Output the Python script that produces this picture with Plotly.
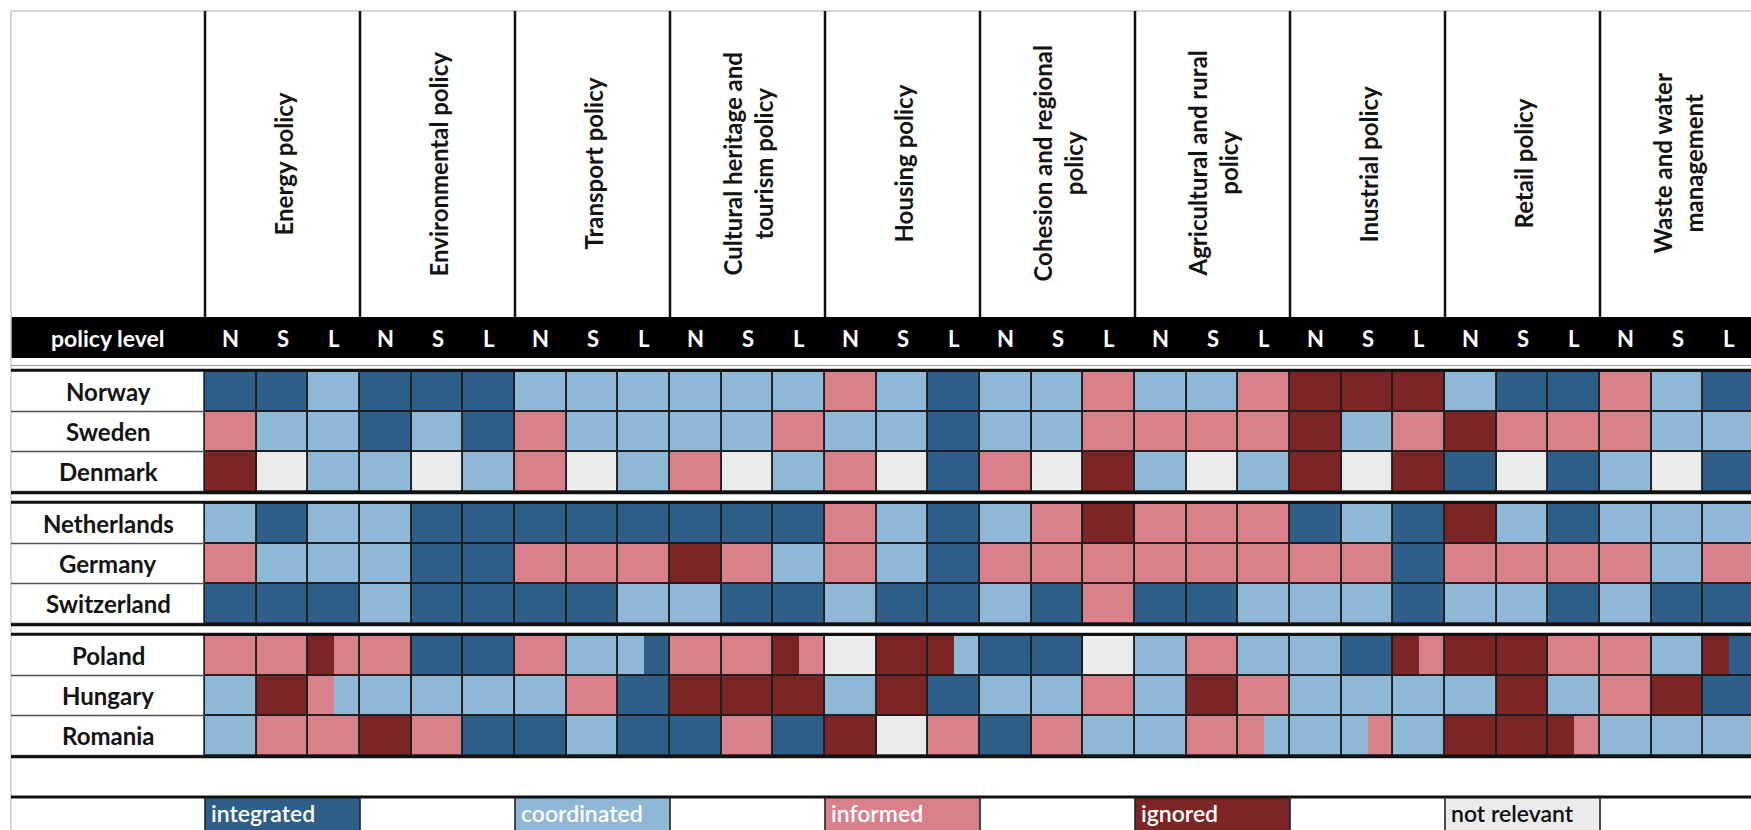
import plotly.graph_objects as go

# ---------------- data ----------------
policies = ["Energy policy", "Environmental policy", "Transport policy",
            "Cultural heritage and<br>tourism policy", "Housing policy",
            "Cohesion and regional<br>policy", "Agricultural and rural<br>policy",
            "Inustrial policy", "Retail policy", "Waste and water<br>management"]
levels = ["N", "S", "L"]
countries = ["Norway", "Sweden", "Denmark", "Netherlands", "Germany", "Switzerland",
             "Poland", "Hungary", "Romania"]
country_group = [0, 0, 0, 1, 1, 1, 2, 2, 2]

# I = integrated, C = coordinated, F = informed, G = ignored, X = not relevant
# two letters = cell split in halves (left, right)
norway      = ["I", "I", "C",  "I", "I", "I",  "C", "C", "C",  "C", "C", "C",  "F", "C", "I",
               "C", "C", "F",  "C", "C", "F",  "G", "G", "G",  "C", "I", "I",  "F", "C", "I"]
sweden      = ["F", "C", "C",  "I", "C", "I",  "F", "C", "C",  "C", "C", "F",  "C", "C", "I",
               "C", "C", "F",  "F", "F", "F",  "G", "C", "F",  "G", "F", "F",  "F", "C", "C"]
denmark     = ["G", "X", "C",  "C", "X", "C",  "F", "X", "C",  "F", "X", "C",  "F", "X", "I",
               "F", "X", "G",  "C", "X", "C",  "G", "X", "G",  "I", "X", "I",  "C", "X", "I"]
netherlands = ["C", "I", "C",  "C", "I", "I",  "I", "I", "I",  "I", "I", "I",  "F", "C", "I",
               "C", "F", "G",  "F", "F", "F",  "I", "C", "I",  "G", "C", "I",  "C", "C", "C"]
germany     = ["F", "C", "C",  "C", "I", "I",  "F", "F", "F",  "G", "F", "C",  "F", "C", "I",
               "F", "F", "F",  "F", "F", "F",  "F", "F", "I",  "F", "F", "F",  "F", "C", "F"]
switzerland = ["I", "I", "I",  "C", "I", "I",  "I", "I", "C",  "C", "I", "I",  "C", "I", "I",
               "C", "I", "F",  "I", "I", "C",  "C", "C", "I",  "C", "C", "I",  "C", "I", "I"]
poland      = ["F", "F", "GF", "F", "I", "I",  "F", "C", "CI", "F", "F", "GF", "X", "G", "GC",
               "I", "I", "X",  "C", "F", "C",  "C", "I", "GF", "G", "G", "F",  "F", "C", "GI"]
hungary     = ["C", "G", "FC", "C", "C", "C",  "C", "F", "I",  "G", "G", "G",  "C", "G", "I",
               "C", "C", "F",  "C", "G", "F",  "C", "C", "C",  "C", "G", "C",  "F", "G", "I"]
romania     = ["C", "F", "F",  "G", "F", "I",  "I", "C", "I",  "I", "F", "I",  "G", "X", "F",
               "I", "F", "C",  "C", "F", "FC", "C", "CF", "C", "G", "G", "GF", "C", "C", "C"]
table = [norway, sweden, denmark, netherlands, germany, switzerland, poland, hungary, romania]

legend_codes = ["I", "C", "F", "G", "X"]
legend_labels = ["integrated", "coordinated", "informed", "ignored", "not relevant"]

# ---------------- style ----------------
colors = {"I": "#2f5e88", "C": "#8eb8d6", "F": "#d8818a", "G": "#7c2527", "X": "#ebebeb"}
text_on = {"I": "white", "C": "white", "F": "white", "G": "white", "X": "#111111"}
FONT = "Lato"
W, H = 1751, 830
SUB_W = 155 / 3.0      # px per sub-column
ROW_H = 40.0           # px per row
GRID_X0 = 205.0        # px of first data column
GRID_Y0 = 371.5        # px of first data row
GROUP_GAP = 0.3        # rows


def X(px):
    return (px - GRID_X0) / SUB_W


def Y(px):
    return (px - GRID_Y0) / ROW_H


def row_top(r):
    return r + country_group[r] * GROUP_GAP


fig = go.Figure()

# fills (split cells drawn as halves)
for code in legend_codes:
    xs, bases, widths = [], [], []
    for r, row in enumerate(table):
        for c, cell in enumerate(row):
            n = len(cell)
            for p, part in enumerate(cell):
                if part == code:
                    xs.append(c + (p + 0.5) / n)
                    widths.append(1.0 / n)
                    bases.append(row_top(r))
    fig.add_trace(go.Bar(x=xs, y=[1] * len(xs), base=bases, width=widths,
                         marker=dict(color=colors[code], line=dict(width=0)),
                         name=legend_labels[legend_codes.index(code)],
                         showlegend=False, hoverinfo="skip"))

# cell outlines
ox, ob = [], []
for r, row in enumerate(table):
    for c in range(len(row)):
        ox.append(c + 0.5)
        ob.append(row_top(r))
fig.add_trace(go.Bar(x=ox, y=[1] * len(ox), base=ob, width=[1.0] * len(ox),
                     marker=dict(color="rgba(0,0,0,0)", line=dict(color="#1e1e1e", width=1.7)),
                     showlegend=False, hoverinfo="skip"))

shapes = []
annotations = []
XL, XR = X(11), X(1760)
ncols = len(policies) * len(levels)

# outer light border
shapes.append(dict(type="line", x0=XL, x1=XR, y0=Y(11), y1=Y(11),
                   line=dict(color="#c8c8c8", width=1.5)))
shapes.append(dict(type="line", x0=XL, x1=XL, y0=Y(11), y1=Y(830),
                   line=dict(color="#c8c8c8", width=1.5)))

# header vertical lines and labels
for k, pol in enumerate(policies):
    shapes.append(dict(type="line", x0=3 * k, x1=3 * k, y0=Y(11), y1=Y(317),
                       line=dict(color="#111111", width=2.5)))
    annotations.append(dict(x=3 * k + 1.5, y=Y(164), text=pol, textangle=-90,
                            showarrow=False, xanchor="center", yanchor="middle",
                            font=dict(family=FONT, size=24, color="#141414", weight="bold")))

# black band with policy levels
shapes.append(dict(type="rect", x0=XL, x1=XR, y0=Y(317), y1=Y(358),
                   fillcolor="black", line=dict(width=0), layer="below"))
annotations.append(dict(x=X(108), y=Y(338), text="policy level", showarrow=False,
                        font=dict(family=FONT, size=23, color="white", weight="bold")))
for c in range(ncols):
    annotations.append(dict(x=c + 0.5, y=Y(338), text=levels[c % 3], showarrow=False,
                            font=dict(family=FONT, size=22, color="white", weight="bold")))
shapes.append(dict(type="line", x0=XL, x1=XR, y0=Y(365.5), y1=Y(365.5),
                   line=dict(color="#9a9a9a", width=1)))

# row labels and separators
for r, name in enumerate(countries):
    t = row_top(r)
    annotations.append(dict(x=X(108), y=t + 0.5, text=name, showarrow=False,
                            font=dict(family=FONT, size=24, color="#141414", weight="bold")))
    shapes.append(dict(type="line", x0=XL, x1=0, y0=t + 1, y1=t + 1,
                       line=dict(color="#555555", width=1.5)))

# thick group borders
for g in sorted(set(country_group)):
    rows = [r for r in range(len(countries)) if country_group[r] == g]
    top = row_top(rows[0])
    bot = row_top(rows[-1]) + 1
    for yy in (top - 0.03, bot + 0.03):
        shapes.append(dict(type="line", x0=XL, x1=XR, y0=yy, y1=yy,
                           line=dict(color="#111111", width=3)))

# legend row
LY0, LY1 = Y(797), Y(835)
shapes.append(dict(type="line", x0=XL, x1=XR, y0=LY0, y1=LY0,
                   line=dict(color="#111111", width=3)))
for i, code in enumerate(legend_codes):
    shapes.append(dict(type="rect", x0=6 * i, x1=6 * i + 3, y0=LY0, y1=LY1,
                       fillcolor=colors[code], line=dict(width=0), layer="below"))
    annotations.append(dict(x=6 * i + 0.08, y=Y(813), text=legend_labels[i], showarrow=False,
                            xanchor="left", yanchor="middle",
                            font=dict(family=FONT, size=23, color=text_on[code], weight=600)))
for k in range(len(policies) + 1):
    shapes.append(dict(type="line", x0=3 * k, x1=3 * k, y0=LY0, y1=LY1,
                       line=dict(color="#222222", width=1.6)))

fig.update_layout(
    width=W, height=H, margin=dict(l=0, r=0, t=0, b=0),
    paper_bgcolor="white", plot_bgcolor="white",
    barmode="overlay", bargap=0,
    xaxis=dict(range=[X(0), X(W)], visible=False, fixedrange=True),
    yaxis=dict(range=[Y(H), Y(0)], visible=False, fixedrange=True),
    shapes=shapes, annotations=annotations,
)

fig.write_html(
    "out.html",
    config={"displayModeBar": False},
    post_script="document.body.style.margin='0px';document.body.style.padding='0px';"
                "document.documentElement.style.overflow='hidden';",
)
